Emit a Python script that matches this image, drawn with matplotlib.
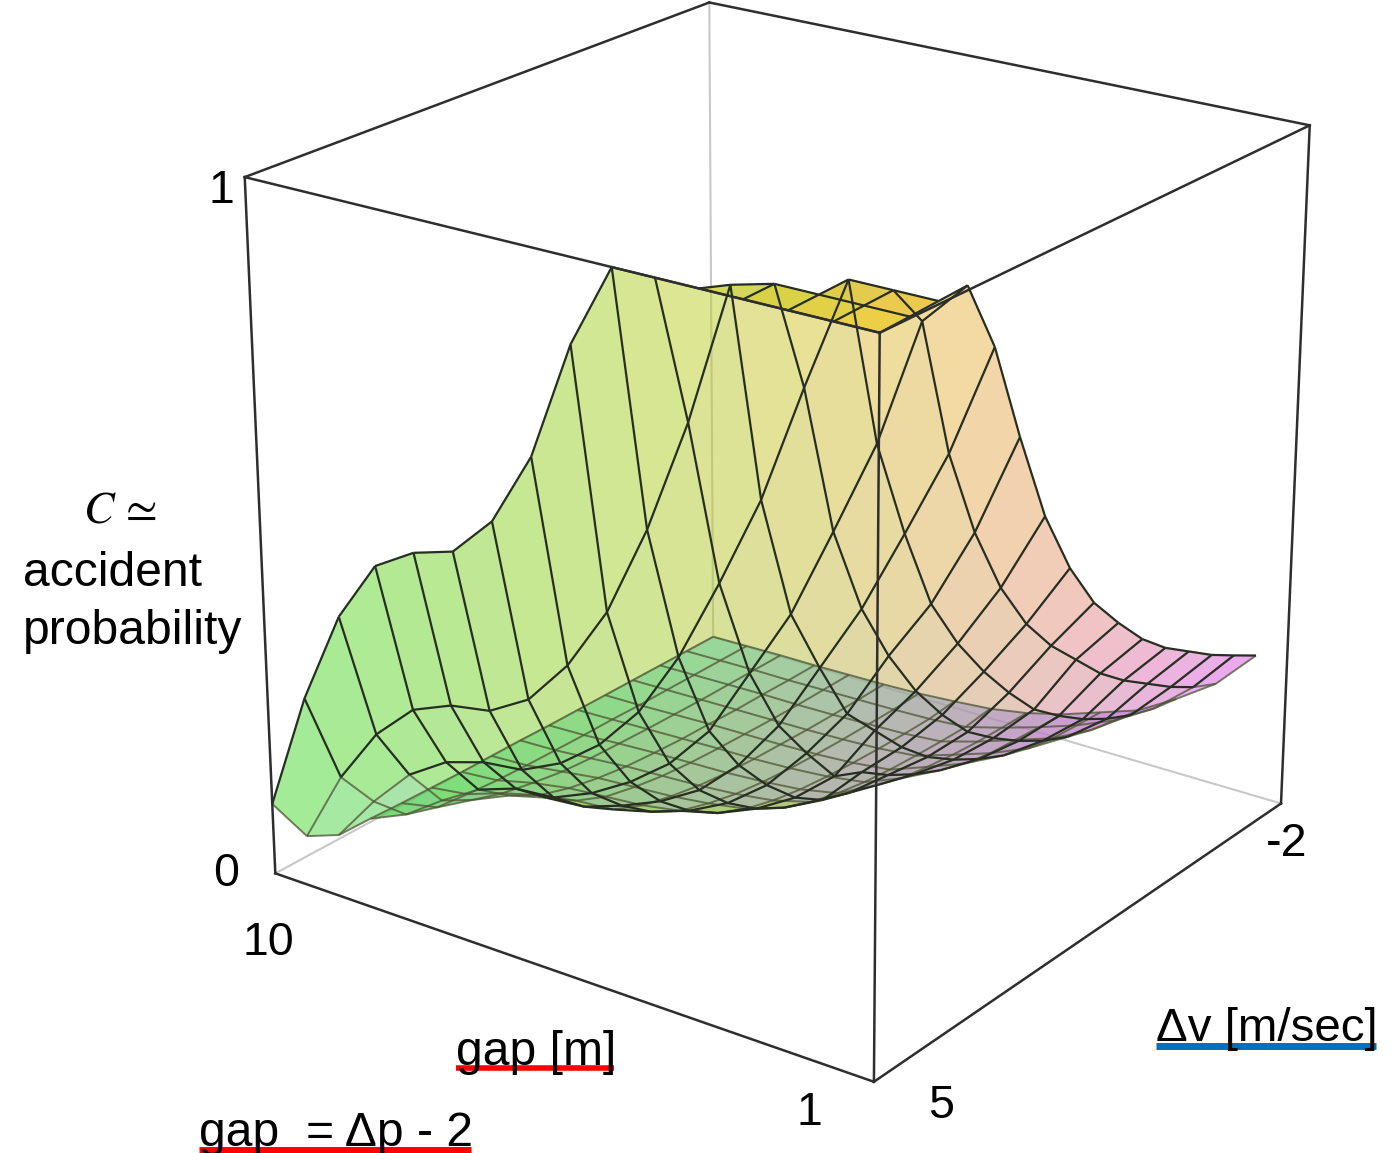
import numpy as np
import matplotlib
matplotlib.use("Agg")
import matplotlib.pyplot as plt
from matplotlib.lines import Line2D
from mpl_toolkits.mplot3d.art3d import Poly3DCollection, Line3DCollection

W, H = 1394, 1153

# surface heights, one row per dv grid line, gap runs 10 -> 1 along each row
z_00 = [.105, .28, .416, .505, .54, .558, .616, .72, .885, 1, 1, 1, 1, 1, 1, 1]
z_01 = [.03, .138, .22, .274, .298, .308, .342, .408, .50, .63, .79, .985, 1, 1, 1, 1]
z_02 = [.006, .076, .135, .172, .19, .197, .225, .27, .335, .43, .55, .68, .845, 1, 1, 1]
z_03 = [.005, .03, .07, .105, .125, .13, .155, .19, .235, .30, .40, .50, .63, .764, .94, 1]
z_04 = [.003, .015, .045, .07, .085, .09, .11, .135, .17, .225, .30, .40, .50, .62, .744, .90]
z_05 = [.002, .01, .03, .045, .055, .06, .075, .095, .125, .17, .235, .31, .41, .50, .615, .76]
z_06 = [.001, .006, .02, .03, .035, .04, .05, .065, .09, .125, .175, .26, .335, .42, .515, .63]
z_07 = [.001, .004, .012, .02, .024, .028, .035, .045, .065, .095, .155, .21, .275, .355, .44, .535]
z_08 = [.001, .003, .008, .013, .016, .019, .024, .032, .048, .08, .125, .17, .225, .30, .385, .463]
z_09 = [0, .002, .006, .009, .011, .013, .017, .023, .035, .065, .10, .14, .19, .25, .34, .41]
z_10 = [0, .002, .004, .006, .008, .009, .012, .017, .026, .05, .08, .115, .16, .215, .295, .362]
z_11 = [0, .001, .003, .005, .006, .007, .009, .013, .02, .042, .065, .095, .135, .185, .26, .325]
z_12 = [0, .001, .002, .003, .004, .005, .007, .01, .016, .035, .055, .08, .115, .16, .23, .295]
z_13 = [0, .001, .002, .003, .003, .004, .006, .008, .013, .03, .05, .07, .10, .14, .20, .265]
z_14 = [0, .001, .002, .002, .003, .004, .005, .007, .011, .027, .045, .065, .09, .125, .175, .24]
z_15 = [0, .001, .002, .002, .003, .004, .006, .01, .015, .025, .04, .06, .08, .115, .155, .215]

dv_values = [5.0, 4.53, 4.07, 3.6, 3.13, 2.67, 2.2, 1.73, 1.27, 0.8, 0.33, -0.13, -0.6, -1.07, -1.53, -2.0]
gap_values = [10.0, 9.4, 8.8, 8.2, 7.6, 7.0, 6.4, 5.8, 5.2, 4.6, 4.0, 3.4, 2.8, 2.2, 1.6, 1.0]
gap_end_shift = [0.0, 0.45]

Z = np.array([z_00, z_01, z_02, z_03, z_04, z_05, z_06, z_07,
              z_08, z_09, z_10, z_11, z_12, z_13, z_14, z_15])

# colours, strong because the faces are half see-through
wall_left = np.array([0.26, 0.85, 0.18])
wall_front = np.array([0.95, 0.80, 0.12])
wall_tip = np.array([0.87, 0.30, 0.93])
floor_left = np.array([0.28, 0.85, 0.22])
floor_back = np.array([0.35, 0.82, 0.60])
floor_tip = np.array([0.85, 0.35, 0.95])

def px(x, y):
    return x / W, 1 - y / H

fig = plt.figure(figsize=(W / 100, H / 100), dpi=100)
side = 1245
cx, cy = 769, 521
ax = fig.add_axes([(cx - side / 2) / W, 1 - (cy + side / 2) / H, side / W, side / H],
                  projection="3d", computed_zorder=False)
ax.set_box_aspect((1, 1, 1))
ax.set_proj_type("persp", focal_length=0.72)
ax.view_init(elev=22, azim=-54)
ax.set_xlim(10, 1)
ax.set_ylim(5, -2)
ax.set_zlim(0, 1)
ax.set_axis_off()

gaps = np.array(gap_values)
dvs = np.array(dv_values)
X, Y = np.meshgrid(gaps, dvs)
# far dv end of the mesh stops a little short of the gap=1 plane
shift = np.linspace(gap_end_shift[0], gap_end_shift[1], len(dvs))
X = X + np.outer(shift, (10 - gaps) / 9)

# the mesh folds along its diagonal: front wall for i >= j, floor behind it for i < j
n = len(gaps) - 1
wall_polys, wall_cols, floor_polys, floor_cols = [], [], [], []
for j in range(n):
    for i in range(n):
        corners = [(j, i), (j, i + 1), (j + 1, i + 1), (j + 1, i)]
        poly = [(X[c], Y[c], Z[c]) for c in corners]
        t = (i + 0.5) / n
        s = (j + 0.5) / n
        if i < j:
            c = (1 - t) * ((1 - s) * floor_left + s * floor_back) + t * floor_tip
            floor_polys.append(poly)
            floor_cols.append((*c, 0.5))
        else:
            sw = s ** 1.1
            c = (1 - t) * wall_left + t * ((1 - sw) * wall_front + sw * wall_tip)
            a = 0.7 if min(Z[q] for q in corners) >= 1 else 0.5
            wall_polys.append(poly)
            wall_cols.append((*c, a))

wall_lines, floor_lines = [], []
for j in range(n + 1):
    for i in range(n + 1):
        if i < n:
            seg = [(X[j, i], Y[j, i], Z[j, i]), (X[j, i + 1], Y[j, i + 1], Z[j, i + 1])]
            (floor_lines if i + 0.5 < j else wall_lines).append(seg)
        if j < n:
            seg = [(X[j, i], Y[j, i], Z[j, i]), (X[j + 1, i], Y[j + 1, i], Z[j + 1, i])]
            (floor_lines if i < j + 0.5 else wall_lines).append(seg)

ax.add_collection3d(Poly3DCollection(wall_polys, facecolors=wall_cols, edgecolors="none", zorder=2),
                    autolim=False)
ax.add_collection3d(Poly3DCollection(floor_polys, facecolors=floor_cols, edgecolors="none", zorder=2.1),
                    autolim=False)
ax.add_collection3d(Line3DCollection(floor_lines, colors=[(0.30, 0.33, 0.20, 0.75)], linewidths=1.4, zorder=2.2),
                    autolim=False)
ax.add_collection3d(Line3DCollection(wall_lines, colors=[(0.15, 0.18, 0.13, 1.0)], linewidths=1.6, zorder=2.3),
                    autolim=False)

g0, g1 = 10, 1
v0, v1 = 5, -2
dark = "#2e2e2e"
light = "#c8c8c8"

# hidden box edges
for xs, ys, zs in [([g0, g0], [v1, v1], [0, 1]),
                   ([g0, g0], [v0, v1], [0, 0]),
                   ([g0, g1], [v1, v1], [0, 0])]:
    ax.plot(xs, ys, zs, color=light, lw=1.5, zorder=1)

# visible box edges
for xs, ys, zs in [([g0, g1], [v0, v0], [0, 0]),
                   ([g1, g1], [v0, v1], [0, 0]),
                   ([g0, g0], [v0, v0], [0, 1]),
                   ([g1, g1], [v1, v1], [0, 1]),
                   ([g1, g1], [v0, v0], [0, 1]),
                   ([g0, g1], [v0, v0], [1, 1]),
                   ([g1, g1], [v0, v1], [1, 1]),
                   ([g0, g0], [v0, v1], [1, 1]),
                   ([g0, g1], [v1, v1], [1, 1])]:
    ax.plot(xs, ys, zs, color=dark, lw=1.8, zorder=3)

font = "Liberation Sans"
size = 34.6
def label(x, y, s, fs=size, ha="left", **kw):
    fig.text(*px(x, y), s, fontsize=fs, family=font, ha=ha, va="baseline", color="black", **kw)

label(209, 203, "1", 33.5)
label(213, 886, "0", 33.5)
label(243, 955, "10", 33.5)
label(797, 1125, "1", 33.5)
label(928, 1118, "5", 33.5)
label(1266, 856, "-2", 33.5)
label(23, 586, "accident")
label(23, 644, "probability")
plt.rcParams["mathtext.fontset"] = "stix"
fig.text(*px(83, 522), r"$C\,\simeq$", fontsize=33, ha="left", va="baseline", color="black")
label(456, 1065, "gap [m]")
label(199, 1146, "gap  = \u0394p - 2")
label(1156, 1041, "\u0394v [m/sec]", 34.2)

for x0, x1, y, c, lw in [(456, 614, 1068, "#ff0000", 4),
                         (199, 471, 1150, "#ff0000", 5),
                         (1156, 1376, 1046, "#0070c0", 5)]:
    fig.add_artist(Line2D([x0 / W, x1 / W], [1 - y / H, 1 - y / H], color=c, lw=lw,
                          solid_capstyle="butt"))

fig.savefig("out.png", dpi=100)
